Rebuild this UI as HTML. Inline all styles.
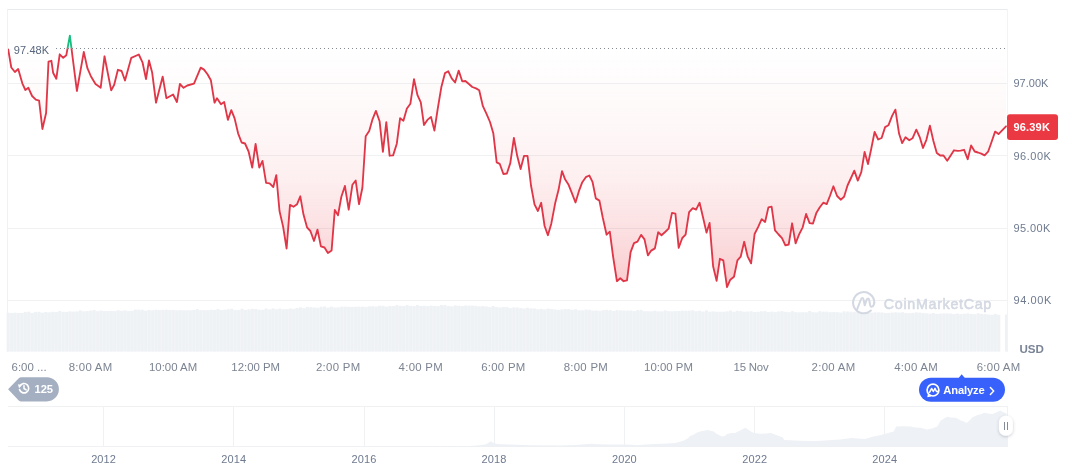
<!DOCTYPE html>
<html><head><meta charset="utf-8"><title>Chart</title>
<style>
html,body{margin:0;padding:0;background:#fff;}
body{width:1072px;height:470px;overflow:hidden;font-family:"Liberation Sans",sans-serif;}
svg{display:block;position:absolute;left:0;top:0;will-change:transform;}
text{font-family:"Liberation Sans",sans-serif;}
</style></head>
<body>
<svg width="1072" height="470" viewBox="0 0 1072 470">
<defs>
<linearGradient id="gr" gradientUnits="userSpaceOnUse" x1="0" y1="48.3" x2="0" y2="351">
<stop offset="0" stop-color="#EA3943" stop-opacity="0.0"/>
<stop offset="0.27" stop-color="#EA3943" stop-opacity="0.04"/>
<stop offset="0.42" stop-color="#EA3943" stop-opacity="0.078"/>
<stop offset="0.60" stop-color="#EA3943" stop-opacity="0.155"/>
<stop offset="0.77" stop-color="#EA3943" stop-opacity="0.25"/>
<stop offset="1" stop-color="#EA3943" stop-opacity="0.33"/>
</linearGradient>
<linearGradient id="gg" gradientUnits="userSpaceOnUse" x1="0" y1="9" x2="0" y2="48.3">
<stop offset="0" stop-color="#17BE80" stop-opacity="0.4"/>
<stop offset="1" stop-color="#17BE80" stop-opacity="0.0"/>
</linearGradient>
<clipPath id="below"><rect x="0" y="48.3" width="1072" height="320"/></clipPath>
<clipPath id="above"><rect x="0" y="0" width="1072" height="48.3"/></clipPath>
<filter id="sh" x="-50%" y="-50%" width="200%" height="200%"><feDropShadow dx="0" dy="1" stdDeviation="1.5" flood-color="#58667e" flood-opacity="0.35"/></filter>
</defs>

<!-- grid -->
<g stroke="#EFF1F3" stroke-width="1" shape-rendering="crispEdges">
<line x1="8" y1="83.5" x2="1007" y2="83.5"/>
<line x1="8" y1="155.5" x2="1007" y2="155.5"/>
<line x1="8" y1="228.5" x2="1007" y2="228.5"/>
<line x1="8" y1="300.5" x2="1007" y2="300.5"/>
</g>

<!-- volume -->
<g fill="#EFF2F5">
<path d="M7.5,351.5 L7.5,313.5 L60.0,312.0 L100.0,311.0 L180.0,310.2 L268.0,309.7 L330.0,307.4 L400.0,306.2 L470.0,306.2 L536.0,309.2 L600.0,310.8 L700.0,311.5 L804.0,312.2 L900.0,313.2 L1000.0,314.7 L1000,351.5 Z" fill="#F4F6F9"/>
<rect x="6.63" y="312.63" width="2.94" height="38.87"/>
<rect x="10.07" y="313.08" width="2.94" height="38.42"/>
<rect x="13.51" y="312.66" width="2.94" height="38.84"/>
<rect x="16.95" y="312.99" width="2.94" height="38.51"/>
<rect x="20.39" y="312.93" width="2.94" height="38.57"/>
<rect x="23.83" y="311.82" width="2.94" height="39.68"/>
<rect x="27.27" y="311.63" width="2.94" height="39.87"/>
<rect x="30.71" y="313.01" width="2.94" height="38.49"/>
<rect x="34.15" y="311.87" width="2.94" height="39.63"/>
<rect x="37.59" y="311.73" width="2.94" height="39.77"/>
<rect x="41.03" y="313.00" width="2.94" height="38.50"/>
<rect x="44.47" y="311.95" width="2.94" height="39.55"/>
<rect x="47.91" y="312.51" width="2.94" height="38.99"/>
<rect x="51.35" y="311.76" width="2.94" height="39.74"/>
<rect x="54.79" y="311.96" width="2.94" height="39.54"/>
<rect x="58.23" y="310.98" width="2.94" height="40.52"/>
<rect x="61.67" y="311.76" width="2.94" height="39.74"/>
<rect x="65.11" y="312.10" width="2.94" height="39.40"/>
<rect x="68.55" y="311.39" width="2.94" height="40.11"/>
<rect x="71.99" y="311.70" width="2.94" height="39.80"/>
<rect x="75.43" y="311.49" width="2.94" height="40.01"/>
<rect x="78.87" y="310.31" width="2.94" height="41.19"/>
<rect x="82.31" y="311.47" width="2.94" height="40.03"/>
<rect x="85.75" y="311.08" width="2.94" height="40.42"/>
<rect x="89.19" y="310.48" width="2.94" height="41.02"/>
<rect x="92.63" y="309.90" width="2.94" height="41.60"/>
<rect x="96.07" y="311.32" width="2.94" height="40.18"/>
<rect x="99.51" y="310.54" width="2.94" height="40.96"/>
<rect x="102.95" y="310.95" width="2.94" height="40.55"/>
<rect x="106.39" y="311.20" width="2.94" height="40.30"/>
<rect x="109.83" y="310.87" width="2.94" height="40.63"/>
<rect x="113.27" y="311.21" width="2.94" height="40.29"/>
<rect x="116.71" y="310.23" width="2.94" height="41.27"/>
<rect x="120.15" y="310.93" width="2.94" height="40.57"/>
<rect x="123.59" y="310.25" width="2.94" height="41.25"/>
<rect x="127.03" y="311.10" width="2.94" height="40.40"/>
<rect x="130.47" y="310.96" width="2.94" height="40.54"/>
<rect x="133.91" y="309.52" width="2.94" height="41.98"/>
<rect x="137.35" y="309.56" width="2.94" height="41.94"/>
<rect x="140.79" y="309.67" width="2.94" height="41.83"/>
<rect x="144.23" y="310.98" width="2.94" height="40.52"/>
<rect x="147.67" y="309.99" width="2.94" height="41.51"/>
<rect x="151.11" y="310.30" width="2.94" height="41.20"/>
<rect x="154.55" y="309.68" width="2.94" height="41.82"/>
<rect x="157.99" y="310.02" width="2.94" height="41.48"/>
<rect x="161.43" y="309.77" width="2.94" height="41.73"/>
<rect x="164.87" y="309.67" width="2.94" height="41.83"/>
<rect x="168.31" y="310.06" width="2.94" height="41.44"/>
<rect x="171.75" y="310.02" width="2.94" height="41.48"/>
<rect x="175.19" y="310.56" width="2.94" height="40.94"/>
<rect x="178.63" y="310.13" width="2.94" height="41.37"/>
<rect x="182.07" y="310.55" width="2.94" height="40.95"/>
<rect x="185.51" y="310.40" width="2.94" height="41.10"/>
<rect x="188.95" y="310.62" width="2.94" height="40.88"/>
<rect x="192.39" y="310.03" width="2.94" height="41.47"/>
<rect x="195.83" y="309.10" width="2.94" height="42.40"/>
<rect x="199.27" y="310.33" width="2.94" height="41.17"/>
<rect x="202.71" y="310.50" width="2.94" height="41.00"/>
<rect x="206.15" y="310.37" width="2.94" height="41.13"/>
<rect x="209.59" y="309.75" width="2.94" height="41.75"/>
<rect x="213.03" y="309.99" width="2.94" height="41.51"/>
<rect x="216.47" y="309.06" width="2.94" height="42.44"/>
<rect x="219.91" y="310.16" width="2.94" height="41.34"/>
<rect x="223.35" y="309.68" width="2.94" height="41.82"/>
<rect x="226.79" y="309.14" width="2.94" height="42.36"/>
<rect x="230.23" y="308.72" width="2.94" height="42.78"/>
<rect x="233.67" y="310.12" width="2.94" height="41.38"/>
<rect x="237.11" y="310.35" width="2.94" height="41.15"/>
<rect x="240.55" y="308.71" width="2.94" height="42.79"/>
<rect x="243.99" y="309.97" width="2.94" height="41.53"/>
<rect x="247.43" y="309.25" width="2.94" height="42.25"/>
<rect x="250.87" y="308.76" width="2.94" height="42.74"/>
<rect x="254.31" y="309.00" width="2.94" height="42.50"/>
<rect x="257.75" y="309.83" width="2.94" height="41.67"/>
<rect x="261.19" y="310.00" width="2.94" height="41.50"/>
<rect x="264.63" y="308.49" width="2.94" height="43.01"/>
<rect x="268.07" y="309.45" width="2.94" height="42.05"/>
<rect x="271.51" y="308.30" width="2.94" height="43.20"/>
<rect x="274.95" y="309.38" width="2.94" height="42.12"/>
<rect x="278.39" y="308.56" width="2.94" height="42.94"/>
<rect x="281.83" y="309.42" width="2.94" height="42.08"/>
<rect x="285.27" y="309.47" width="2.94" height="42.03"/>
<rect x="288.71" y="308.49" width="2.94" height="43.01"/>
<rect x="292.15" y="309.25" width="2.94" height="42.25"/>
<rect x="295.59" y="307.88" width="2.94" height="43.62"/>
<rect x="299.03" y="307.33" width="2.94" height="44.17"/>
<rect x="302.47" y="308.15" width="2.94" height="43.35"/>
<rect x="305.91" y="307.00" width="2.94" height="44.50"/>
<rect x="309.35" y="307.17" width="2.94" height="44.33"/>
<rect x="312.79" y="307.42" width="2.94" height="44.08"/>
<rect x="316.23" y="307.66" width="2.94" height="43.84"/>
<rect x="319.67" y="306.71" width="2.94" height="44.79"/>
<rect x="323.11" y="306.38" width="2.94" height="45.12"/>
<rect x="326.55" y="307.74" width="2.94" height="43.76"/>
<rect x="329.99" y="306.64" width="2.94" height="44.86"/>
<rect x="333.43" y="307.74" width="2.94" height="43.76"/>
<rect x="336.87" y="307.57" width="2.94" height="43.93"/>
<rect x="340.31" y="306.58" width="2.94" height="44.92"/>
<rect x="343.75" y="306.67" width="2.94" height="44.83"/>
<rect x="347.19" y="306.72" width="2.94" height="44.78"/>
<rect x="350.63" y="306.88" width="2.94" height="44.62"/>
<rect x="354.07" y="306.73" width="2.94" height="44.77"/>
<rect x="357.51" y="306.61" width="2.94" height="44.89"/>
<rect x="360.95" y="306.66" width="2.94" height="44.84"/>
<rect x="364.39" y="307.18" width="2.94" height="44.32"/>
<rect x="367.83" y="306.34" width="2.94" height="45.16"/>
<rect x="371.27" y="306.14" width="2.94" height="45.36"/>
<rect x="374.71" y="306.60" width="2.94" height="44.90"/>
<rect x="378.15" y="305.68" width="2.94" height="45.82"/>
<rect x="381.59" y="305.73" width="2.94" height="45.77"/>
<rect x="385.03" y="306.89" width="2.94" height="44.61"/>
<rect x="388.47" y="306.01" width="2.94" height="45.49"/>
<rect x="391.91" y="306.00" width="2.94" height="45.50"/>
<rect x="395.35" y="304.98" width="2.94" height="46.52"/>
<rect x="398.79" y="305.65" width="2.94" height="45.85"/>
<rect x="402.23" y="305.94" width="2.94" height="45.56"/>
<rect x="405.67" y="304.94" width="2.94" height="46.56"/>
<rect x="409.11" y="306.01" width="2.94" height="45.49"/>
<rect x="412.55" y="306.04" width="2.94" height="45.46"/>
<rect x="415.99" y="305.01" width="2.94" height="46.49"/>
<rect x="419.43" y="306.03" width="2.94" height="45.47"/>
<rect x="422.87" y="305.74" width="2.94" height="45.76"/>
<rect x="426.31" y="306.12" width="2.94" height="45.38"/>
<rect x="429.75" y="305.53" width="2.94" height="45.97"/>
<rect x="433.19" y="306.17" width="2.94" height="45.33"/>
<rect x="436.63" y="306.23" width="2.94" height="45.27"/>
<rect x="440.07" y="304.94" width="2.94" height="46.56"/>
<rect x="443.51" y="305.01" width="2.94" height="46.49"/>
<rect x="446.95" y="306.12" width="2.94" height="45.38"/>
<rect x="450.39" y="306.63" width="2.94" height="44.87"/>
<rect x="453.83" y="305.35" width="2.94" height="46.15"/>
<rect x="457.27" y="305.72" width="2.94" height="45.78"/>
<rect x="460.71" y="305.97" width="2.94" height="45.53"/>
<rect x="464.15" y="305.48" width="2.94" height="46.02"/>
<rect x="467.59" y="305.56" width="2.94" height="45.94"/>
<rect x="471.03" y="305.58" width="2.94" height="45.92"/>
<rect x="474.47" y="305.83" width="2.94" height="45.67"/>
<rect x="477.91" y="306.40" width="2.94" height="45.10"/>
<rect x="481.35" y="306.02" width="2.94" height="45.48"/>
<rect x="484.79" y="306.32" width="2.94" height="45.18"/>
<rect x="488.23" y="307.19" width="2.94" height="44.31"/>
<rect x="491.67" y="306.00" width="2.94" height="45.50"/>
<rect x="495.11" y="307.13" width="2.94" height="44.37"/>
<rect x="498.55" y="307.59" width="2.94" height="43.91"/>
<rect x="501.99" y="306.98" width="2.94" height="44.52"/>
<rect x="505.43" y="306.98" width="2.94" height="44.52"/>
<rect x="508.87" y="308.18" width="2.94" height="43.32"/>
<rect x="512.31" y="307.32" width="2.94" height="44.18"/>
<rect x="515.75" y="307.38" width="2.94" height="44.12"/>
<rect x="519.19" y="307.99" width="2.94" height="43.51"/>
<rect x="522.63" y="308.62" width="2.94" height="42.88"/>
<rect x="526.07" y="307.70" width="2.94" height="43.80"/>
<rect x="529.51" y="308.25" width="2.94" height="43.25"/>
<rect x="532.95" y="308.43" width="2.94" height="43.07"/>
<rect x="536.39" y="309.45" width="2.94" height="42.05"/>
<rect x="539.83" y="308.82" width="2.94" height="42.68"/>
<rect x="543.27" y="309.66" width="2.94" height="41.84"/>
<rect x="546.71" y="308.51" width="2.94" height="42.99"/>
<rect x="550.15" y="308.90" width="2.94" height="42.60"/>
<rect x="553.59" y="309.55" width="2.94" height="41.95"/>
<rect x="557.03" y="310.06" width="2.94" height="41.44"/>
<rect x="560.47" y="309.36" width="2.94" height="42.14"/>
<rect x="563.91" y="309.04" width="2.94" height="42.46"/>
<rect x="567.35" y="308.94" width="2.94" height="42.56"/>
<rect x="570.79" y="309.76" width="2.94" height="41.74"/>
<rect x="574.23" y="309.24" width="2.94" height="42.26"/>
<rect x="577.67" y="310.43" width="2.94" height="41.07"/>
<rect x="581.11" y="310.57" width="2.94" height="40.93"/>
<rect x="584.55" y="309.48" width="2.94" height="42.02"/>
<rect x="587.99" y="309.74" width="2.94" height="41.76"/>
<rect x="591.43" y="310.78" width="2.94" height="40.72"/>
<rect x="594.87" y="310.56" width="2.94" height="40.94"/>
<rect x="598.31" y="310.95" width="2.94" height="40.55"/>
<rect x="601.75" y="310.14" width="2.94" height="41.36"/>
<rect x="605.19" y="309.78" width="2.94" height="41.72"/>
<rect x="608.63" y="310.10" width="2.94" height="41.40"/>
<rect x="612.07" y="311.02" width="2.94" height="40.48"/>
<rect x="615.51" y="310.11" width="2.94" height="41.39"/>
<rect x="618.95" y="310.27" width="2.94" height="41.23"/>
<rect x="622.39" y="310.42" width="2.94" height="41.08"/>
<rect x="625.83" y="310.45" width="2.94" height="41.05"/>
<rect x="629.27" y="310.45" width="2.94" height="41.05"/>
<rect x="632.71" y="311.40" width="2.94" height="40.10"/>
<rect x="636.15" y="310.04" width="2.94" height="41.46"/>
<rect x="639.59" y="309.80" width="2.94" height="41.70"/>
<rect x="643.03" y="311.51" width="2.94" height="39.99"/>
<rect x="646.47" y="311.42" width="2.94" height="40.08"/>
<rect x="649.91" y="311.64" width="2.94" height="39.86"/>
<rect x="653.35" y="310.67" width="2.94" height="40.83"/>
<rect x="656.79" y="311.62" width="2.94" height="39.88"/>
<rect x="660.23" y="311.60" width="2.94" height="39.90"/>
<rect x="663.67" y="310.36" width="2.94" height="41.14"/>
<rect x="667.11" y="311.32" width="2.94" height="40.18"/>
<rect x="670.55" y="311.51" width="2.94" height="39.99"/>
<rect x="673.99" y="311.22" width="2.94" height="40.28"/>
<rect x="677.43" y="310.99" width="2.94" height="40.51"/>
<rect x="680.87" y="310.60" width="2.94" height="40.90"/>
<rect x="684.31" y="310.71" width="2.94" height="40.79"/>
<rect x="687.75" y="310.53" width="2.94" height="40.97"/>
<rect x="691.19" y="310.27" width="2.94" height="41.23"/>
<rect x="694.63" y="311.23" width="2.94" height="40.27"/>
<rect x="698.07" y="310.71" width="2.94" height="40.79"/>
<rect x="701.51" y="311.68" width="2.94" height="39.82"/>
<rect x="704.95" y="310.32" width="2.94" height="41.18"/>
<rect x="708.39" y="311.89" width="2.94" height="39.61"/>
<rect x="711.83" y="311.54" width="2.94" height="39.96"/>
<rect x="715.27" y="311.98" width="2.94" height="39.52"/>
<rect x="718.71" y="311.95" width="2.94" height="39.55"/>
<rect x="722.15" y="311.98" width="2.94" height="39.52"/>
<rect x="725.59" y="311.42" width="2.94" height="40.08"/>
<rect x="729.03" y="310.43" width="2.94" height="41.07"/>
<rect x="732.47" y="311.77" width="2.94" height="39.73"/>
<rect x="735.91" y="310.76" width="2.94" height="40.74"/>
<rect x="739.35" y="311.01" width="2.94" height="40.49"/>
<rect x="742.79" y="311.69" width="2.94" height="39.81"/>
<rect x="746.23" y="311.47" width="2.94" height="40.03"/>
<rect x="749.67" y="311.29" width="2.94" height="40.21"/>
<rect x="753.11" y="312.26" width="2.94" height="39.24"/>
<rect x="756.55" y="311.69" width="2.94" height="39.81"/>
<rect x="759.99" y="311.23" width="2.94" height="40.27"/>
<rect x="763.43" y="311.09" width="2.94" height="40.41"/>
<rect x="766.87" y="312.21" width="2.94" height="39.29"/>
<rect x="770.31" y="311.54" width="2.94" height="39.96"/>
<rect x="773.75" y="312.11" width="2.94" height="39.39"/>
<rect x="777.19" y="311.36" width="2.94" height="40.14"/>
<rect x="780.63" y="311.11" width="2.94" height="40.39"/>
<rect x="784.07" y="311.74" width="2.94" height="39.76"/>
<rect x="787.51" y="312.27" width="2.94" height="39.23"/>
<rect x="790.95" y="311.13" width="2.94" height="40.37"/>
<rect x="794.39" y="312.27" width="2.94" height="39.23"/>
<rect x="797.83" y="312.53" width="2.94" height="38.97"/>
<rect x="801.27" y="312.34" width="2.94" height="39.16"/>
<rect x="804.71" y="312.41" width="2.94" height="39.09"/>
<rect x="808.15" y="310.97" width="2.94" height="40.53"/>
<rect x="811.59" y="312.13" width="2.94" height="39.37"/>
<rect x="815.03" y="312.58" width="2.94" height="38.92"/>
<rect x="818.47" y="311.16" width="2.94" height="40.34"/>
<rect x="821.91" y="311.59" width="2.94" height="39.91"/>
<rect x="825.35" y="311.62" width="2.94" height="39.88"/>
<rect x="828.79" y="312.12" width="2.94" height="39.38"/>
<rect x="832.23" y="311.97" width="2.94" height="39.53"/>
<rect x="835.67" y="312.10" width="2.94" height="39.40"/>
<rect x="839.11" y="312.68" width="2.94" height="38.82"/>
<rect x="842.55" y="311.32" width="2.94" height="40.18"/>
<rect x="845.99" y="311.45" width="2.94" height="40.05"/>
<rect x="849.43" y="311.62" width="2.94" height="39.88"/>
<rect x="852.87" y="311.65" width="2.94" height="39.85"/>
<rect x="856.31" y="311.58" width="2.94" height="39.92"/>
<rect x="859.75" y="313.25" width="2.94" height="38.25"/>
<rect x="863.19" y="313.07" width="2.94" height="38.43"/>
<rect x="866.63" y="311.72" width="2.94" height="39.78"/>
<rect x="870.07" y="312.51" width="2.94" height="38.99"/>
<rect x="873.51" y="312.21" width="2.94" height="39.29"/>
<rect x="876.95" y="312.24" width="2.94" height="39.26"/>
<rect x="880.39" y="312.34" width="2.94" height="39.16"/>
<rect x="883.83" y="312.91" width="2.94" height="38.59"/>
<rect x="887.27" y="312.84" width="2.94" height="38.66"/>
<rect x="890.71" y="312.47" width="2.94" height="39.03"/>
<rect x="894.15" y="312.20" width="2.94" height="39.30"/>
<rect x="897.59" y="312.48" width="2.94" height="39.02"/>
<rect x="901.03" y="312.16" width="2.94" height="39.34"/>
<rect x="904.47" y="312.99" width="2.94" height="38.51"/>
<rect x="907.91" y="313.33" width="2.94" height="38.17"/>
<rect x="911.35" y="312.78" width="2.94" height="38.72"/>
<rect x="914.79" y="312.29" width="2.94" height="39.21"/>
<rect x="918.23" y="312.52" width="2.94" height="38.98"/>
<rect x="921.67" y="312.92" width="2.94" height="38.58"/>
<rect x="925.11" y="313.39" width="2.94" height="38.11"/>
<rect x="928.55" y="313.76" width="2.94" height="37.74"/>
<rect x="931.99" y="313.09" width="2.94" height="38.41"/>
<rect x="935.43" y="313.90" width="2.94" height="37.60"/>
<rect x="938.87" y="313.63" width="2.94" height="37.87"/>
<rect x="942.31" y="313.33" width="2.94" height="38.17"/>
<rect x="945.75" y="313.28" width="2.94" height="38.22"/>
<rect x="949.19" y="313.55" width="2.94" height="37.95"/>
<rect x="952.63" y="313.98" width="2.94" height="37.52"/>
<rect x="956.07" y="313.52" width="2.94" height="37.98"/>
<rect x="959.51" y="314.06" width="2.94" height="37.44"/>
<rect x="962.95" y="313.70" width="2.94" height="37.80"/>
<rect x="966.39" y="313.36" width="2.94" height="38.14"/>
<rect x="969.83" y="313.93" width="2.94" height="37.57"/>
<rect x="973.27" y="314.27" width="2.94" height="37.23"/>
<rect x="976.71" y="313.20" width="2.94" height="38.30"/>
<rect x="980.15" y="313.89" width="2.94" height="37.61"/>
<rect x="983.59" y="313.94" width="2.94" height="37.56"/>
<rect x="987.03" y="314.81" width="2.94" height="36.69"/>
<rect x="990.47" y="314.96" width="2.94" height="36.54"/>
<rect x="993.91" y="314.00" width="2.94" height="37.50"/>
<rect x="997.35" y="315.00" width="2.94" height="36.50"/>
<rect x="1005" y="314.5" width="2.5" height="37"/>
</g>

<!-- area fill -->
<path d="M8.20,48.3 L8.20,49.40 L11.30,67.50 L14.90,72.00 L18.20,69.00 L22.40,83.60 L25.40,90.00 L28.40,87.80 L32.10,96.00 L35.80,99.60 L39.10,100.60 L42.40,129.00 L46.10,113.00 L48.50,61.70 L51.40,60.80 L53.10,72.70 L56.30,78.80 L59.70,54.30 L63.20,57.80 L66.30,55.30 L69.85,35.60 L76.90,91.00 L83.80,51.90 L87.40,68.20 L91.00,76.50 L95.50,84.00 L100.70,87.70 L104.50,56.30 L111.20,90.40 L114.20,84.70 L117.90,69.80 L121.60,71.00 L125.00,80.50 L131.30,57.80 L138.80,54.50 L142.50,62.30 L146.00,79.00 L149.00,60.50 L152.20,72.80 L156.00,102.70 L162.70,76.60 L166.40,98.20 L173.10,94.50 L176.90,102.00 L179.90,84.00 L183.60,87.80 L187.30,85.50 L194.00,83.60 L200.70,67.60 L204.00,69.60 L207.50,74.30 L210.90,80.30 L214.50,102.70 L217.00,98.20 L221.00,104.30 L224.20,102.10 L227.90,119.90 L231.30,110.10 L234.60,118.40 L238.10,133.30 L241.60,142.50 L245.00,143.50 L248.60,151.50 L252.20,167.60 L255.60,144.00 L259.30,167.60 L262.50,160.90 L266.10,182.80 L269.60,183.30 L273.30,187.00 L276.30,175.10 L279.50,211.00 L283.10,226.60 L286.60,248.50 L290.00,204.90 L293.50,206.80 L297.10,204.20 L300.30,196.30 L303.50,214.60 L307.00,227.30 L310.40,231.00 L314.00,241.00 L317.50,229.60 L320.90,246.40 L324.50,247.50 L327.90,253.00 L331.60,250.40 L334.80,210.00 L338.00,215.40 L341.30,197.00 L344.90,186.00 L348.70,209.70 L352.40,184.80 L355.70,180.60 L359.00,204.20 L362.40,187.80 L365.70,136.30 L369.20,131.00 L372.60,119.10 L375.90,110.90 L379.60,121.30 L382.90,151.90 L386.30,122.10 L389.60,155.70 L393.10,155.40 L396.80,143.70 L400.10,118.20 L403.40,120.70 L406.90,108.50 L410.40,103.70 L414.00,79.10 L417.50,95.20 L420.80,102.40 L424.00,125.10 L427.40,119.90 L431.00,116.90 L434.40,130.60 L437.70,109.00 L441.30,87.30 L445.00,73.10 L448.30,71.30 L451.70,78.40 L455.10,82.50 L458.70,70.60 L462.20,81.30 L465.40,81.00 L468.90,84.00 L472.30,87.00 L476.00,88.40 L479.20,90.30 L482.90,106.20 L486.30,113.30 L490.00,122.00 L493.30,133.20 L496.70,162.30 L499.70,163.80 L503.40,174.00 L506.90,173.50 L510.30,163.10 L513.90,138.00 L517.30,156.30 L520.60,169.00 L524.00,155.90 L527.50,155.90 L531.00,185.50 L534.50,204.30 L537.90,211.00 L541.20,202.80 L544.60,226.00 L547.90,235.20 L551.30,223.70 L555.10,203.60 L558.50,190.10 L562.00,171.10 L565.20,179.60 L568.60,184.80 L571.90,193.10 L575.50,202.50 L579.00,190.90 L582.30,182.20 L585.80,177.20 L589.30,175.50 L592.50,181.80 L595.80,198.40 L599.40,200.60 L602.80,217.80 L606.60,234.70 L609.80,231.70 L613.10,256.60 L616.90,281.20 L620.30,278.20 L623.60,281.20 L627.00,280.40 L630.60,252.10 L634.00,243.10 L637.50,241.60 L641.10,234.90 L644.50,239.40 L647.90,255.40 L651.20,250.60 L654.90,248.40 L658.20,232.30 L661.50,235.20 L665.10,232.00 L668.60,228.70 L672.00,212.90 L675.40,213.60 L678.70,247.80 L682.30,238.00 L685.60,234.70 L689.10,212.10 L692.80,208.10 L696.10,209.60 L699.60,202.70 L703.00,217.30 L706.50,232.60 L709.60,223.00 L713.10,266.30 L716.60,280.90 L719.90,258.80 L723.30,260.30 L727.00,287.20 L730.30,279.70 L734.00,276.70 L737.40,260.40 L740.70,256.70 L744.20,241.80 L747.60,256.30 L751.10,263.40 L754.60,234.00 L758.30,226.60 L761.70,219.10 L765.10,222.00 L768.40,207.40 L771.60,206.60 L775.00,230.30 L778.60,234.50 L782.00,238.10 L785.40,245.40 L788.70,244.50 L792.10,223.30 L795.60,243.30 L799.10,234.40 L802.70,227.30 L806.10,214.00 L809.60,223.20 L813.00,223.50 L816.30,213.10 L819.80,207.30 L823.30,202.70 L826.70,204.10 L829.90,196.00 L833.40,186.30 L837.10,196.00 L840.70,199.70 L844.10,196.70 L847.50,185.50 L851.00,178.00 L854.30,170.60 L857.80,180.60 L861.30,172.10 L864.60,152.00 L868.00,164.00 L871.30,148.50 L874.60,132.00 L878.20,139.50 L881.60,138.00 L885.10,127.10 L888.40,125.30 L892.10,115.90 L895.40,109.60 L899.10,133.80 L902.20,143.10 L905.50,137.20 L909.30,140.20 L912.50,138.30 L916.30,129.60 L919.70,137.10 L923.00,148.00 L926.40,139.80 L929.90,125.60 L933.40,141.00 L936.80,153.00 L940.20,155.50 L943.50,155.50 L947.20,160.80 L950.70,155.40 L954.00,150.30 L957.70,150.90 L960.70,150.70 L964.10,149.80 L967.70,159.20 L971.10,145.50 L974.70,151.50 L977.90,152.50 L981.20,153.70 L984.60,155.40 L988.10,151.70 L991.30,142.80 L995.10,131.60 L998.50,134.10 L1006.00,126.30 L1006.00,48.3 Z" fill="url(#gr)" clip-path="url(#below)"/>
<path d="M8.20,48.3 L8.20,49.40 L11.30,67.50 L14.90,72.00 L18.20,69.00 L22.40,83.60 L25.40,90.00 L28.40,87.80 L32.10,96.00 L35.80,99.60 L39.10,100.60 L42.40,129.00 L46.10,113.00 L48.50,61.70 L51.40,60.80 L53.10,72.70 L56.30,78.80 L59.70,54.30 L63.20,57.80 L66.30,55.30 L69.85,35.60 L76.90,91.00 L83.80,51.90 L87.40,68.20 L91.00,76.50 L95.50,84.00 L100.70,87.70 L104.50,56.30 L111.20,90.40 L114.20,84.70 L117.90,69.80 L121.60,71.00 L125.00,80.50 L131.30,57.80 L138.80,54.50 L142.50,62.30 L146.00,79.00 L149.00,60.50 L152.20,72.80 L156.00,102.70 L162.70,76.60 L166.40,98.20 L173.10,94.50 L176.90,102.00 L179.90,84.00 L183.60,87.80 L187.30,85.50 L194.00,83.60 L200.70,67.60 L204.00,69.60 L207.50,74.30 L210.90,80.30 L214.50,102.70 L217.00,98.20 L221.00,104.30 L224.20,102.10 L227.90,119.90 L231.30,110.10 L234.60,118.40 L238.10,133.30 L241.60,142.50 L245.00,143.50 L248.60,151.50 L252.20,167.60 L255.60,144.00 L259.30,167.60 L262.50,160.90 L266.10,182.80 L269.60,183.30 L273.30,187.00 L276.30,175.10 L279.50,211.00 L283.10,226.60 L286.60,248.50 L290.00,204.90 L293.50,206.80 L297.10,204.20 L300.30,196.30 L303.50,214.60 L307.00,227.30 L310.40,231.00 L314.00,241.00 L317.50,229.60 L320.90,246.40 L324.50,247.50 L327.90,253.00 L331.60,250.40 L334.80,210.00 L338.00,215.40 L341.30,197.00 L344.90,186.00 L348.70,209.70 L352.40,184.80 L355.70,180.60 L359.00,204.20 L362.40,187.80 L365.70,136.30 L369.20,131.00 L372.60,119.10 L375.90,110.90 L379.60,121.30 L382.90,151.90 L386.30,122.10 L389.60,155.70 L393.10,155.40 L396.80,143.70 L400.10,118.20 L403.40,120.70 L406.90,108.50 L410.40,103.70 L414.00,79.10 L417.50,95.20 L420.80,102.40 L424.00,125.10 L427.40,119.90 L431.00,116.90 L434.40,130.60 L437.70,109.00 L441.30,87.30 L445.00,73.10 L448.30,71.30 L451.70,78.40 L455.10,82.50 L458.70,70.60 L462.20,81.30 L465.40,81.00 L468.90,84.00 L472.30,87.00 L476.00,88.40 L479.20,90.30 L482.90,106.20 L486.30,113.30 L490.00,122.00 L493.30,133.20 L496.70,162.30 L499.70,163.80 L503.40,174.00 L506.90,173.50 L510.30,163.10 L513.90,138.00 L517.30,156.30 L520.60,169.00 L524.00,155.90 L527.50,155.90 L531.00,185.50 L534.50,204.30 L537.90,211.00 L541.20,202.80 L544.60,226.00 L547.90,235.20 L551.30,223.70 L555.10,203.60 L558.50,190.10 L562.00,171.10 L565.20,179.60 L568.60,184.80 L571.90,193.10 L575.50,202.50 L579.00,190.90 L582.30,182.20 L585.80,177.20 L589.30,175.50 L592.50,181.80 L595.80,198.40 L599.40,200.60 L602.80,217.80 L606.60,234.70 L609.80,231.70 L613.10,256.60 L616.90,281.20 L620.30,278.20 L623.60,281.20 L627.00,280.40 L630.60,252.10 L634.00,243.10 L637.50,241.60 L641.10,234.90 L644.50,239.40 L647.90,255.40 L651.20,250.60 L654.90,248.40 L658.20,232.30 L661.50,235.20 L665.10,232.00 L668.60,228.70 L672.00,212.90 L675.40,213.60 L678.70,247.80 L682.30,238.00 L685.60,234.70 L689.10,212.10 L692.80,208.10 L696.10,209.60 L699.60,202.70 L703.00,217.30 L706.50,232.60 L709.60,223.00 L713.10,266.30 L716.60,280.90 L719.90,258.80 L723.30,260.30 L727.00,287.20 L730.30,279.70 L734.00,276.70 L737.40,260.40 L740.70,256.70 L744.20,241.80 L747.60,256.30 L751.10,263.40 L754.60,234.00 L758.30,226.60 L761.70,219.10 L765.10,222.00 L768.40,207.40 L771.60,206.60 L775.00,230.30 L778.60,234.50 L782.00,238.10 L785.40,245.40 L788.70,244.50 L792.10,223.30 L795.60,243.30 L799.10,234.40 L802.70,227.30 L806.10,214.00 L809.60,223.20 L813.00,223.50 L816.30,213.10 L819.80,207.30 L823.30,202.70 L826.70,204.10 L829.90,196.00 L833.40,186.30 L837.10,196.00 L840.70,199.70 L844.10,196.70 L847.50,185.50 L851.00,178.00 L854.30,170.60 L857.80,180.60 L861.30,172.10 L864.60,152.00 L868.00,164.00 L871.30,148.50 L874.60,132.00 L878.20,139.50 L881.60,138.00 L885.10,127.10 L888.40,125.30 L892.10,115.90 L895.40,109.60 L899.10,133.80 L902.20,143.10 L905.50,137.20 L909.30,140.20 L912.50,138.30 L916.30,129.60 L919.70,137.10 L923.00,148.00 L926.40,139.80 L929.90,125.60 L933.40,141.00 L936.80,153.00 L940.20,155.50 L943.50,155.50 L947.20,160.80 L950.70,155.40 L954.00,150.30 L957.70,150.90 L960.70,150.70 L964.10,149.80 L967.70,159.20 L971.10,145.50 L974.70,151.50 L977.90,152.50 L981.20,153.70 L984.60,155.40 L988.10,151.70 L991.30,142.80 L995.10,131.60 L998.50,134.10 L1006.00,126.30 L1006.00,48.3 Z" fill="url(#gg)" clip-path="url(#above)"/>

<!-- baseline dotted -->
<line x1="56" y1="48.5" x2="1007" y2="48.5" stroke="#858A94" stroke-width="1" stroke-dasharray="1 3" shape-rendering="crispEdges"/>

<!-- price line -->
<path d="M8.20,49.40 L11.30,67.50 L14.90,72.00 L18.20,69.00 L22.40,83.60 L25.40,90.00 L28.40,87.80 L32.10,96.00 L35.80,99.60 L39.10,100.60 L42.40,129.00 L46.10,113.00 L48.50,61.70 L51.40,60.80 L53.10,72.70 L56.30,78.80 L59.70,54.30 L63.20,57.80 L66.30,55.30 L69.85,35.60 L76.90,91.00 L83.80,51.90 L87.40,68.20 L91.00,76.50 L95.50,84.00 L100.70,87.70 L104.50,56.30 L111.20,90.40 L114.20,84.70 L117.90,69.80 L121.60,71.00 L125.00,80.50 L131.30,57.80 L138.80,54.50 L142.50,62.30 L146.00,79.00 L149.00,60.50 L152.20,72.80 L156.00,102.70 L162.70,76.60 L166.40,98.20 L173.10,94.50 L176.90,102.00 L179.90,84.00 L183.60,87.80 L187.30,85.50 L194.00,83.60 L200.70,67.60 L204.00,69.60 L207.50,74.30 L210.90,80.30 L214.50,102.70 L217.00,98.20 L221.00,104.30 L224.20,102.10 L227.90,119.90 L231.30,110.10 L234.60,118.40 L238.10,133.30 L241.60,142.50 L245.00,143.50 L248.60,151.50 L252.20,167.60 L255.60,144.00 L259.30,167.60 L262.50,160.90 L266.10,182.80 L269.60,183.30 L273.30,187.00 L276.30,175.10 L279.50,211.00 L283.10,226.60 L286.60,248.50 L290.00,204.90 L293.50,206.80 L297.10,204.20 L300.30,196.30 L303.50,214.60 L307.00,227.30 L310.40,231.00 L314.00,241.00 L317.50,229.60 L320.90,246.40 L324.50,247.50 L327.90,253.00 L331.60,250.40 L334.80,210.00 L338.00,215.40 L341.30,197.00 L344.90,186.00 L348.70,209.70 L352.40,184.80 L355.70,180.60 L359.00,204.20 L362.40,187.80 L365.70,136.30 L369.20,131.00 L372.60,119.10 L375.90,110.90 L379.60,121.30 L382.90,151.90 L386.30,122.10 L389.60,155.70 L393.10,155.40 L396.80,143.70 L400.10,118.20 L403.40,120.70 L406.90,108.50 L410.40,103.70 L414.00,79.10 L417.50,95.20 L420.80,102.40 L424.00,125.10 L427.40,119.90 L431.00,116.90 L434.40,130.60 L437.70,109.00 L441.30,87.30 L445.00,73.10 L448.30,71.30 L451.70,78.40 L455.10,82.50 L458.70,70.60 L462.20,81.30 L465.40,81.00 L468.90,84.00 L472.30,87.00 L476.00,88.40 L479.20,90.30 L482.90,106.20 L486.30,113.30 L490.00,122.00 L493.30,133.20 L496.70,162.30 L499.70,163.80 L503.40,174.00 L506.90,173.50 L510.30,163.10 L513.90,138.00 L517.30,156.30 L520.60,169.00 L524.00,155.90 L527.50,155.90 L531.00,185.50 L534.50,204.30 L537.90,211.00 L541.20,202.80 L544.60,226.00 L547.90,235.20 L551.30,223.70 L555.10,203.60 L558.50,190.10 L562.00,171.10 L565.20,179.60 L568.60,184.80 L571.90,193.10 L575.50,202.50 L579.00,190.90 L582.30,182.20 L585.80,177.20 L589.30,175.50 L592.50,181.80 L595.80,198.40 L599.40,200.60 L602.80,217.80 L606.60,234.70 L609.80,231.70 L613.10,256.60 L616.90,281.20 L620.30,278.20 L623.60,281.20 L627.00,280.40 L630.60,252.10 L634.00,243.10 L637.50,241.60 L641.10,234.90 L644.50,239.40 L647.90,255.40 L651.20,250.60 L654.90,248.40 L658.20,232.30 L661.50,235.20 L665.10,232.00 L668.60,228.70 L672.00,212.90 L675.40,213.60 L678.70,247.80 L682.30,238.00 L685.60,234.70 L689.10,212.10 L692.80,208.10 L696.10,209.60 L699.60,202.70 L703.00,217.30 L706.50,232.60 L709.60,223.00 L713.10,266.30 L716.60,280.90 L719.90,258.80 L723.30,260.30 L727.00,287.20 L730.30,279.70 L734.00,276.70 L737.40,260.40 L740.70,256.70 L744.20,241.80 L747.60,256.30 L751.10,263.40 L754.60,234.00 L758.30,226.60 L761.70,219.10 L765.10,222.00 L768.40,207.40 L771.60,206.60 L775.00,230.30 L778.60,234.50 L782.00,238.10 L785.40,245.40 L788.70,244.50 L792.10,223.30 L795.60,243.30 L799.10,234.40 L802.70,227.30 L806.10,214.00 L809.60,223.20 L813.00,223.50 L816.30,213.10 L819.80,207.30 L823.30,202.70 L826.70,204.10 L829.90,196.00 L833.40,186.30 L837.10,196.00 L840.70,199.70 L844.10,196.70 L847.50,185.50 L851.00,178.00 L854.30,170.60 L857.80,180.60 L861.30,172.10 L864.60,152.00 L868.00,164.00 L871.30,148.50 L874.60,132.00 L878.20,139.50 L881.60,138.00 L885.10,127.10 L888.40,125.30 L892.10,115.90 L895.40,109.60 L899.10,133.80 L902.20,143.10 L905.50,137.20 L909.30,140.20 L912.50,138.30 L916.30,129.60 L919.70,137.10 L923.00,148.00 L926.40,139.80 L929.90,125.60 L933.40,141.00 L936.80,153.00 L940.20,155.50 L943.50,155.50 L947.20,160.80 L950.70,155.40 L954.00,150.30 L957.70,150.90 L960.70,150.70 L964.10,149.80 L967.70,159.20 L971.10,145.50 L974.70,151.50 L977.90,152.50 L981.20,153.70 L984.60,155.40 L988.10,151.70 L991.30,142.80 L995.10,131.60 L998.50,134.10 L1006.00,126.30" fill="none" stroke="#E03748" stroke-width="1.85" stroke-linejoin="round" stroke-linecap="round" clip-path="url(#below)"/>
<path d="M8.20,49.40 L11.30,67.50 L14.90,72.00 L18.20,69.00 L22.40,83.60 L25.40,90.00 L28.40,87.80 L32.10,96.00 L35.80,99.60 L39.10,100.60 L42.40,129.00 L46.10,113.00 L48.50,61.70 L51.40,60.80 L53.10,72.70 L56.30,78.80 L59.70,54.30 L63.20,57.80 L66.30,55.30 L69.85,35.60 L76.90,91.00 L83.80,51.90 L87.40,68.20 L91.00,76.50 L95.50,84.00 L100.70,87.70 L104.50,56.30 L111.20,90.40 L114.20,84.70 L117.90,69.80 L121.60,71.00 L125.00,80.50 L131.30,57.80 L138.80,54.50 L142.50,62.30 L146.00,79.00 L149.00,60.50 L152.20,72.80 L156.00,102.70 L162.70,76.60 L166.40,98.20 L173.10,94.50 L176.90,102.00 L179.90,84.00 L183.60,87.80 L187.30,85.50 L194.00,83.60 L200.70,67.60 L204.00,69.60 L207.50,74.30 L210.90,80.30 L214.50,102.70 L217.00,98.20 L221.00,104.30 L224.20,102.10 L227.90,119.90 L231.30,110.10 L234.60,118.40 L238.10,133.30 L241.60,142.50 L245.00,143.50 L248.60,151.50 L252.20,167.60 L255.60,144.00 L259.30,167.60 L262.50,160.90 L266.10,182.80 L269.60,183.30 L273.30,187.00 L276.30,175.10 L279.50,211.00 L283.10,226.60 L286.60,248.50 L290.00,204.90 L293.50,206.80 L297.10,204.20 L300.30,196.30 L303.50,214.60 L307.00,227.30 L310.40,231.00 L314.00,241.00 L317.50,229.60 L320.90,246.40 L324.50,247.50 L327.90,253.00 L331.60,250.40 L334.80,210.00 L338.00,215.40 L341.30,197.00 L344.90,186.00 L348.70,209.70 L352.40,184.80 L355.70,180.60 L359.00,204.20 L362.40,187.80 L365.70,136.30 L369.20,131.00 L372.60,119.10 L375.90,110.90 L379.60,121.30 L382.90,151.90 L386.30,122.10 L389.60,155.70 L393.10,155.40 L396.80,143.70 L400.10,118.20 L403.40,120.70 L406.90,108.50 L410.40,103.70 L414.00,79.10 L417.50,95.20 L420.80,102.40 L424.00,125.10 L427.40,119.90 L431.00,116.90 L434.40,130.60 L437.70,109.00 L441.30,87.30 L445.00,73.10 L448.30,71.30 L451.70,78.40 L455.10,82.50 L458.70,70.60 L462.20,81.30 L465.40,81.00 L468.90,84.00 L472.30,87.00 L476.00,88.40 L479.20,90.30 L482.90,106.20 L486.30,113.30 L490.00,122.00 L493.30,133.20 L496.70,162.30 L499.70,163.80 L503.40,174.00 L506.90,173.50 L510.30,163.10 L513.90,138.00 L517.30,156.30 L520.60,169.00 L524.00,155.90 L527.50,155.90 L531.00,185.50 L534.50,204.30 L537.90,211.00 L541.20,202.80 L544.60,226.00 L547.90,235.20 L551.30,223.70 L555.10,203.60 L558.50,190.10 L562.00,171.10 L565.20,179.60 L568.60,184.80 L571.90,193.10 L575.50,202.50 L579.00,190.90 L582.30,182.20 L585.80,177.20 L589.30,175.50 L592.50,181.80 L595.80,198.40 L599.40,200.60 L602.80,217.80 L606.60,234.70 L609.80,231.70 L613.10,256.60 L616.90,281.20 L620.30,278.20 L623.60,281.20 L627.00,280.40 L630.60,252.10 L634.00,243.10 L637.50,241.60 L641.10,234.90 L644.50,239.40 L647.90,255.40 L651.20,250.60 L654.90,248.40 L658.20,232.30 L661.50,235.20 L665.10,232.00 L668.60,228.70 L672.00,212.90 L675.40,213.60 L678.70,247.80 L682.30,238.00 L685.60,234.70 L689.10,212.10 L692.80,208.10 L696.10,209.60 L699.60,202.70 L703.00,217.30 L706.50,232.60 L709.60,223.00 L713.10,266.30 L716.60,280.90 L719.90,258.80 L723.30,260.30 L727.00,287.20 L730.30,279.70 L734.00,276.70 L737.40,260.40 L740.70,256.70 L744.20,241.80 L747.60,256.30 L751.10,263.40 L754.60,234.00 L758.30,226.60 L761.70,219.10 L765.10,222.00 L768.40,207.40 L771.60,206.60 L775.00,230.30 L778.60,234.50 L782.00,238.10 L785.40,245.40 L788.70,244.50 L792.10,223.30 L795.60,243.30 L799.10,234.40 L802.70,227.30 L806.10,214.00 L809.60,223.20 L813.00,223.50 L816.30,213.10 L819.80,207.30 L823.30,202.70 L826.70,204.10 L829.90,196.00 L833.40,186.30 L837.10,196.00 L840.70,199.70 L844.10,196.70 L847.50,185.50 L851.00,178.00 L854.30,170.60 L857.80,180.60 L861.30,172.10 L864.60,152.00 L868.00,164.00 L871.30,148.50 L874.60,132.00 L878.20,139.50 L881.60,138.00 L885.10,127.10 L888.40,125.30 L892.10,115.90 L895.40,109.60 L899.10,133.80 L902.20,143.10 L905.50,137.20 L909.30,140.20 L912.50,138.30 L916.30,129.60 L919.70,137.10 L923.00,148.00 L926.40,139.80 L929.90,125.60 L933.40,141.00 L936.80,153.00 L940.20,155.50 L943.50,155.50 L947.20,160.80 L950.70,155.40 L954.00,150.30 L957.70,150.90 L960.70,150.70 L964.10,149.80 L967.70,159.20 L971.10,145.50 L974.70,151.50 L977.90,152.50 L981.20,153.70 L984.60,155.40 L988.10,151.70 L991.30,142.80 L995.10,131.60 L998.50,134.10 L1006.00,126.30" fill="none" stroke="#17BE80" stroke-width="1.85" stroke-linejoin="round" stroke-linecap="round" clip-path="url(#above)"/>

<!-- borders -->
<g stroke="#EFF1F3" stroke-width="1" shape-rendering="crispEdges">
<line x1="7" y1="9.5" x2="1008" y2="9.5" stroke="#E9ECEF"/>
<line x1="7.5" y1="9" x2="7.5" y2="352"/>
<line x1="1007.5" y1="9" x2="1007.5" y2="352" stroke="#F2F3F5"/>
</g>

<!-- watermark -->
<g fill="none" stroke="#D3D8E2" stroke-width="2" stroke-linecap="round" stroke-linejoin="round">
<path d="M874.3,302.7 A10.6,10.6 0 1 0 870.9,310.5"/>
<path d="M856.8,310.2 L860.7,300 C861.6,297.4 863.3,297.5 863.7,300 L864.7,305.3 L866.5,300.2 C867.2,297.7 868.9,297.8 869.3,300.4 L870.1,304.9 C870.7,307.8 873.4,307.4 874.3,302.7"/>
</g>
<text x="883.8" y="308.5" font-size="14.3" font-weight="400" fill="#D3D8E2" stroke="#D3D8E2" stroke-width="0.55" stroke-linejoin="round" letter-spacing="0.68">CoinMarketCap</text>

<!-- right axis labels -->
<g font-size="11" fill="#6E7A8F">
<text x="1013.5" y="87">97.00K</text>
<text x="1013.5" y="159.5" letter-spacing="0.5">96.00K</text>
<text x="1013.5" y="232" letter-spacing="0.4">95.00K</text>
<text x="1013.5" y="304.3" letter-spacing="0.6">94.00K</text>
</g>
<text x="1019.5" y="353.2" font-size="11.6" font-weight="700" fill="#7A8496">USD</text>

<!-- current price tag -->
<rect x="1007" y="114.3" width="51" height="25.7" rx="3" fill="#EA3943"/>
<text x="1013.4" y="131.2" font-size="11" font-weight="700" fill="#fff" letter-spacing="0.2">96.39K</text>

<!-- baseline label -->
<text x="13.8" y="54" font-size="11" fill="#58667E" letter-spacing="0.1">97.48K</text>

<!-- time axis -->
<g font-size="11.4" fill="#7C8492" letter-spacing="0.3">
<text x="11.5" y="371" letter-spacing="0.05">6:00 ...</text>
<text x="90.6" y="371" text-anchor="middle">8:00 AM</text>
<text x="173.1" y="371" text-anchor="middle" letter-spacing="0">10:00 AM</text>
<text x="255.7" y="371" text-anchor="middle" letter-spacing="0">12:00 PM</text>
<text x="338.2" y="371" text-anchor="middle">2:00 PM</text>
<text x="420.8" y="371" text-anchor="middle">4:00 PM</text>
<text x="503.4" y="371" text-anchor="middle">6:00 PM</text>
<text x="585.9" y="371" text-anchor="middle">8:00 PM</text>
<text x="668.5" y="371" text-anchor="middle" letter-spacing="0">10:00 PM</text>
<text x="751.0" y="371" text-anchor="middle" letter-spacing="-0.18">15 Nov</text>
<text x="833.5" y="371" text-anchor="middle">2:00 AM</text>
<text x="916.1" y="371" text-anchor="middle">4:00 AM</text>
<text x="998.6" y="371" text-anchor="middle">6:00 AM</text>
</g>

<!-- history badge -->
<path d="M8.1,389.3 L18.5,378.4 Q19.7,377.2 21.5,377.2 L46.8,377.2 A12.1,12.1 0 0 1 46.8,401.4 L21.5,401.4 Q19.7,401.4 18.5,400.2 Z" fill="#A5AFC2"/>
<g fill="none" stroke="#fff" stroke-width="1.7" stroke-linecap="round" stroke-linejoin="round">
<path d="M19.9,385.9 A4.7,4.7 0 1 1 19.5,389.6"/>
<path d="M24,385.7 L24,388.5 L26.2,389.9" stroke-width="1.5"/>
</g>
<path d="M17.9,384.3 L21.9,385 L19.1,388.3 Z" fill="#fff"/>
<text x="34.6" y="393.3" font-size="11.2" font-weight="700" fill="#fff" letter-spacing="-0.1">125</text>

<!-- analyze button -->
<path d="M958.2,378.4 L961.7,374.3 L965.2,378.4 Z" fill="#3861FB"/>
<rect x="919" y="377.8" width="86" height="23.9" rx="11.95" fill="#3861FB"/>
<g fill="none" stroke="#fff" stroke-width="1.7" stroke-linecap="round" stroke-linejoin="round">
<circle cx="933" cy="390.1" r="5.9"/>
<path d="M929.5,392.3 L931.7,388.5 L933.3,391.5 L935,388.4 L936.3,391.2 Q937.1,392.4 938.6,390.4" stroke-width="1.5"/>
</g>
<path d="M927.2,397.2 L928,393.4 L931.2,396.4 Z" fill="#fff"/>
<text x="943.3" y="394" font-size="11.2" font-weight="700" fill="#fff" letter-spacing="-0.15">Analyze</text>
<path d="M990.4,387.5 L993.7,391 L990.4,394.5" fill="none" stroke="#fff" stroke-width="1.5" stroke-linecap="round" stroke-linejoin="round"/>

<!-- navigator -->
<g stroke="#EFF1F3" stroke-width="1" shape-rendering="crispEdges">
<line x1="8" y1="406.5" x2="1007" y2="406.5"/>
<line x1="8" y1="446.5" x2="1007" y2="446.5"/>
<line x1="103.6" y1="406" x2="103.6" y2="446.5"/>
<line x1="233.8" y1="406" x2="233.8" y2="446.5"/>
<line x1="364" y1="406" x2="364" y2="446.5"/>
<line x1="494" y1="406" x2="494" y2="446.5"/>
<line x1="624.4" y1="406" x2="624.4" y2="446.5"/>
<line x1="754.7" y1="406" x2="754.7" y2="446.5"/>
<line x1="884.8" y1="406" x2="884.8" y2="446.5"/>
<line x1="1007.5" y1="406" x2="1007.5" y2="446.5"/>
</g>
<path d="M8,446.5 L8.00,446.30 L430.00,446.30 L470.00,446.00 L480.00,445.30 L486.00,444.30 L489.00,442.50 L491.00,441.30 L493.00,442.80 L496.00,443.80 L502.00,444.20 L510.00,444.50 L530.00,445.20 L560.00,445.40 L575.00,445.00 L585.00,444.20 L592.00,443.70 L598.00,444.30 L610.00,444.60 L624.00,444.60 L633.00,444.80 L637.00,445.30 L642.00,444.80 L655.00,444.00 L668.00,443.50 L675.00,443.00 L680.00,441.80 L684.00,440.50 L688.00,438.20 L690.00,436.00 L693.00,435.00 L697.00,432.50 L700.00,431.50 L704.00,430.80 L708.00,430.00 L711.00,431.00 L714.00,431.50 L716.00,433.50 L719.00,435.00 L722.00,436.60 L725.00,436.00 L727.00,434.00 L730.00,433.30 L735.00,433.00 L738.00,431.50 L741.00,430.00 L745.60,427.80 L748.00,429.50 L751.00,431.50 L754.00,433.00 L760.00,433.80 L766.00,433.50 L771.00,433.00 L775.00,434.50 L779.00,436.00 L783.00,437.40 L784.00,440.00 L790.00,440.30 L800.00,440.70 L815.00,441.00 L825.00,440.50 L840.00,439.60 L851.70,437.90 L858.00,438.60 L865.00,439.00 L873.50,436.50 L880.00,435.20 L884.50,434.00 L890.00,432.50 L893.70,431.50 L896.20,426.50 L903.00,426.20 L910.50,426.50 L915.00,427.40 L920.50,427.80 L927.00,429.50 L932.00,428.50 L937.30,426.50 L940.70,420.60 L944.00,418.50 L947.40,416.80 L951.00,417.60 L955.80,417.80 L960.80,420.60 L964.00,421.50 L966.70,423.10 L970.00,420.00 L972.50,417.30 L977.60,415.10 L981.00,414.20 L984.30,412.70 L988.00,413.50 L992.70,413.90 L996.00,412.50 L1000.20,410.50 L1003.00,412.00 L1006.60,413.50 L1007,446.5 Z" fill="#EEF1F5"/>
<g font-size="11" fill="#6E7A8F" letter-spacing="0.1">
<text x="103.6" y="463" text-anchor="middle">2012</text>
<text x="233.8" y="463" text-anchor="middle">2014</text>
<text x="364" y="463" text-anchor="middle">2016</text>
<text x="494" y="463" text-anchor="middle">2018</text>
<text x="624.4" y="463" text-anchor="middle">2020</text>
<text x="754.7" y="463" text-anchor="middle">2022</text>
<text x="884.8" y="463" text-anchor="middle">2024</text>
</g>
<rect x="998.9" y="415.8" width="14" height="19.9" rx="6.5" fill="#fff" filter="url(#sh)"/>
<g stroke="#848C9A" stroke-width="1" shape-rendering="crispEdges">
<line x1="1004.5" y1="422" x2="1004.5" y2="430"/>
<line x1="1007.5" y1="422" x2="1007.5" y2="430"/>
</g>
</svg>
</body></html>
